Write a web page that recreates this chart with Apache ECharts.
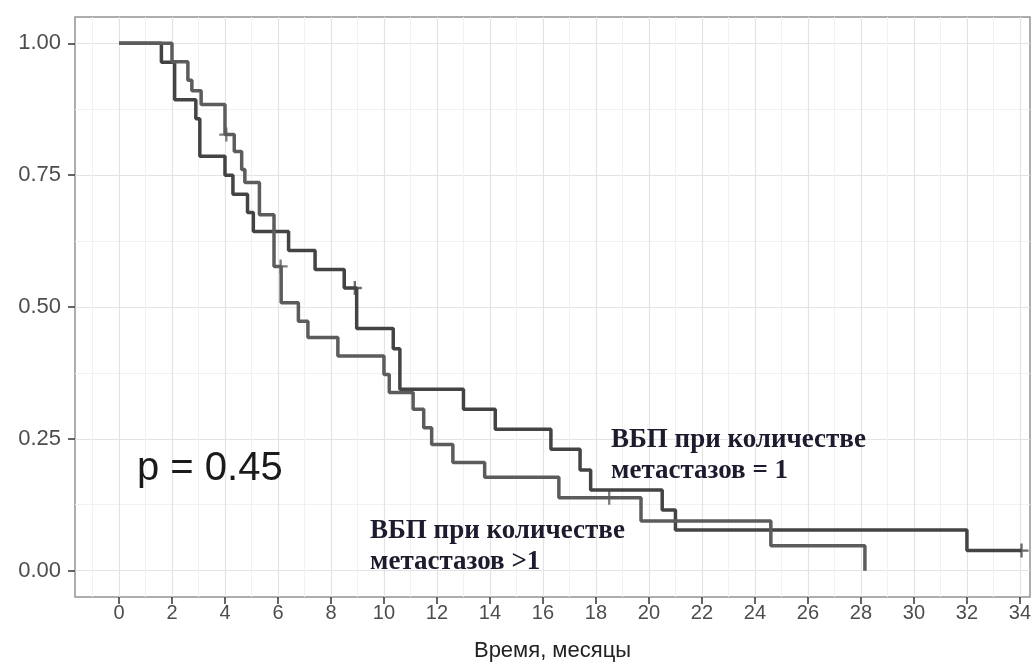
<!DOCTYPE html>
<html>
<head>
<meta charset="utf-8">
<script src="https://cdn.jsdelivr.net/npm/echarts@6/dist/echarts.min.js"></script>
<style>
html, body { margin: 0; padding: 0; background: #fff; }
#main { width: 1035px; height: 670px; }
</style>
</head>
<body>
<div id="main"></div>
<script>
// ВБП, количество метастазов = 1
var timeOne = [0, 1.6, 2.1, 2.9, 3.05, 4.0, 4.3, 4.85, 5.07, 6.4, 7.4, 8.5, 8.97, 10.35, 10.6, 13.0, 14.2, 16.3, 17.4, 17.8, 20.5, 21.0, 32.0, 34.06];
var survOne = [1, 0.964, 0.893, 0.857, 0.786, 0.75, 0.714, 0.679, 0.643, 0.607, 0.571, 0.536, 0.459, 0.421, 0.344, 0.306, 0.268, 0.230, 0.191, 0.153, 0.115, 0.077, 0.038, 0.038];
var censorOneTime = [8.9, 34.06];
var censorOneSurv = [0.536, 0.038];

// ВБП, количество метастазов > 1
var timeMany = [0, 2.0, 2.6, 2.75, 3.1, 4.0, 4.35, 4.63, 4.75, 5.3, 5.85, 6.12, 6.77, 7.13, 8.26, 10.0, 10.2, 11.1, 11.5, 11.8, 12.6, 13.8, 16.6, 19.7, 24.6, 28.15];
var survMany = [1, 0.965, 0.93, 0.91, 0.884, 0.827, 0.795, 0.761, 0.736, 0.675, 0.577, 0.508, 0.473, 0.442, 0.407, 0.372, 0.338, 0.306, 0.271, 0.239, 0.205, 0.177, 0.138, 0.094, 0.047, 0];
var censorManyTime = [4.05, 6.1, 18.5];
var censorManySurv = [0.827, 0.577, 0.138];

var xTicks = [0, 2, 4, 6, 8, 10, 12, 14, 16, 18, 20, 22, 24, 26, 28, 30, 32, 34];
var xMinor = [-1, 1, 3, 5, 7, 9, 11, 13, 15, 17, 19, 21, 23, 25, 27, 29, 31, 33];
var yTicks = [0, 0.25, 0.5, 0.75, 1];
var yMinor = [0.125, 0.375, 0.625, 0.875];

var pText = 'p = 0.45';
var labelOne = 'ВБП при количестве\nметастазов = 1';
var labelMany = 'ВБП при количестве\nметастазов >1';

function zip(a, b) {
  return a.map(function (v, i) { return [v, b[i]]; });
}

var xMin = -1.66, xMax = 34.38, yMin = -0.05, yMax = 1.05;
var plus = 'path://M5,0h2v5h5v2h-5v5h-2v-5h-5v-2h5z';

var chart = echarts.init(document.getElementById('main'));

var option = {
  animation: false,
  grid: {
    left: 75, right: 5, top: 17, bottom: 73,
    outerBoundsMode: 'none', containLabel: false,
    show: true, borderColor: '#939393', borderWidth: 1.5, backgroundColor: '#fff'
  },
  xAxis: [
    {
      type: 'value', min: xMin, max: xMax, position: 'top',
      axisLine: { show: false, onZero: false },
      axisTick: { show: false, customValues: xMinor },
      axisLabel: { show: false },
      splitLine: { show: true, lineStyle: { color: '#f1f1f1', width: 1 } }
    },
    {
      type: 'value', min: xMin, max: xMax, position: 'bottom',
      axisLine: { show: false, onZero: false },
      axisTick: { show: true, customValues: xTicks, length: 7, lineStyle: { color: '#333', width: 1.5 } },
      axisLabel: { customValues: xTicks, fontSize: 20, color: '#4d4d4d', margin: 6, fontFamily: 'Liberation Sans' },
      splitLine: { show: true, lineStyle: { color: '#e3e3e3', width: 1.2 } },
      name: 'Время, месяцы', nameLocation: 'middle', nameGap: 43,
      nameTextStyle: { fontSize: 22, color: '#222', fontFamily: 'Liberation Sans' }
    }
  ],
  yAxis: [
    {
      type: 'value', min: yMin, max: yMax, position: 'right',
      axisLine: { show: false, onZero: false },
      axisTick: { show: false, customValues: yMinor },
      axisLabel: { show: false },
      splitLine: { show: true, lineStyle: { color: '#f1f1f1', width: 1 } }
    },
    {
      type: 'value', min: yMin, max: yMax, position: 'left',
      axisLine: { show: false, onZero: false },
      axisTick: { show: true, customValues: yTicks, length: 7, lineStyle: { color: '#333', width: 1.5 } },
      axisLabel: {
        customValues: yTicks, fontSize: 22, color: '#4d4d4d', margin: 14, fontFamily: 'Liberation Sans',
        formatter: function (v) { return v.toFixed(2); }
      },
      splitLine: { show: true, lineStyle: { color: '#e3e3e3', width: 1.2 } }
    }
  ],
  series: [
    {
      name: labelOne, type: 'line', step: 'end', xAxisIndex: 0, yAxisIndex: 0,
      data: zip(timeOne, survOne), showSymbol: false, symbol: 'none',
      lineStyle: { color: '#434343', width: 3.5 }
    },
    {
      name: labelMany, type: 'line', step: 'end', xAxisIndex: 0, yAxisIndex: 0,
      data: zip(timeMany, survMany), showSymbol: false, symbol: 'none',
      lineStyle: { color: '#5c5c5c', width: 3.5 }
    },
    {
      type: 'scatter', xAxisIndex: 0, yAxisIndex: 0, symbol: plus, symbolSize: 14,
      data: zip(censorOneTime, censorOneSurv), itemStyle: { color: '#434343' }
    },
    {
      type: 'scatter', xAxisIndex: 0, yAxisIndex: 0, symbol: plus, symbolSize: 14,
      data: zip(censorManyTime, censorManySurv), itemStyle: { color: '#5c5c5c' }
    }
  ],
  graphic: [
    {
      type: 'text', left: 137, top: 449, z: 100,
      style: { text: pText, font: '40px "Liberation Sans"', fill: '#1a1a1a' }
    },
    {
      type: 'text', left: 611, top: 425, z: 100,
      style: { text: labelOne, font: 'bold 27px "Liberation Serif"', fill: '#1c1c2e', lineHeight: 31 }
    },
    {
      type: 'text', left: 370, top: 516, z: 100,
      style: { text: labelMany, font: 'bold 27px "Liberation Serif"', fill: '#1c1c2e', lineHeight: 31 }
    }
  ]
};

chart.setOption(option);
</script>
</body>
</html>
